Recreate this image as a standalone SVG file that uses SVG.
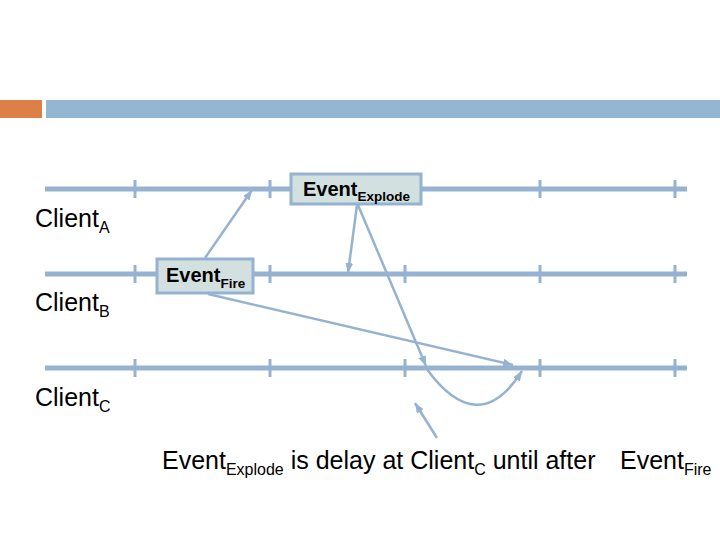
<svg xmlns="http://www.w3.org/2000/svg" width="720" height="540" viewBox="0 0 720 540">
<style>
.tl{stroke:#95B3D0;stroke-width:5;fill:none}
.tk{stroke:#95B3D0;stroke-width:3}
.cn{stroke:#95B3D0;stroke-width:2.5;fill:none;marker-end:url(#ah)}
.box{fill:#D3E0E0;stroke:#95B3D0;stroke-width:3}
.lab{font-family:"Liberation Sans",Arial,sans-serif;font-size:25px;fill:#000}
.sub{font-size:16px}
.bt{font-family:"Liberation Sans",Arial,sans-serif;font-weight:bold;font-size:20px;fill:#000}
.bs{font-size:13.5px}
</style>
<defs>
<marker id="ah" markerUnits="userSpaceOnUse" markerWidth="12" markerHeight="10" refX="10" refY="4.5" orient="auto">
<path d="M0,0.5 L10,4.5 L0,8.5 z" fill="#95B3D0"/>
</marker>
</defs>
<g id="header">
<rect x="0" y="100" width="42" height="18" fill="#DD8047"/>
<rect x="46" y="100" width="674" height="18" fill="#94B6D2"/>
</g>
<g id="timelineA">
<line class="tl" x1="45" y1="189" x2="687" y2="189"/>
<line class="tk" x1="135" y1="180" x2="135" y2="198"/>
<line class="tk" x1="270" y1="180" x2="270" y2="198"/>
<line class="tk" x1="405" y1="180" x2="405" y2="198"/>
<line class="tk" x1="540" y1="180" x2="540" y2="198"/>
<line class="tk" x1="675" y1="180" x2="675" y2="198"/>
<text class="lab" x="35" y="227">Client<tspan class="sub" dy="6">A</tspan></text>
</g>
<g id="timelineB">
<line class="tl" x1="45" y1="274" x2="687" y2="274"/>
<line class="tk" x1="135" y1="265" x2="135" y2="283"/>
<line class="tk" x1="270" y1="265" x2="270" y2="283"/>
<line class="tk" x1="405" y1="265" x2="405" y2="283"/>
<line class="tk" x1="540" y1="265" x2="540" y2="283"/>
<line class="tk" x1="675" y1="265" x2="675" y2="283"/>
<text class="lab" x="35" y="311">Client<tspan class="sub" dy="6">B</tspan></text>
</g>
<g id="timelineC">
<line class="tl" x1="45" y1="368" x2="687" y2="368"/>
<line class="tk" x1="135" y1="359" x2="135" y2="377"/>
<line class="tk" x1="270" y1="359" x2="270" y2="377"/>
<line class="tk" x1="405" y1="359" x2="405" y2="377"/>
<line class="tk" x1="540" y1="359" x2="540" y2="377"/>
<line class="tk" x1="675" y1="359" x2="675" y2="377"/>
<text class="lab" x="35" y="406">Client<tspan class="sub" dy="6">C</tspan></text>
</g>
<g id="connectors">
<line class="cn" x1="205" y1="258" x2="252" y2="190"/>
<line class="cn" x1="357" y1="205" x2="348" y2="273"/>
<line class="cn" x1="358" y1="205" x2="426" y2="366"/>
<path class="cn" d="M426,368 Q478,440 522,371"/>
<line class="cn" x1="208" y1="294" x2="513" y2="365"/>
<line class="cn" x1="437" y1="438" x2="415" y2="403"/>
</g>
<g id="eventExplode">
<rect class="box" x="291" y="174" width="130" height="30"/>
<text class="bt" x="303" y="196">Event<tspan class="bs" y="201">Explode</tspan></text>
</g>
<g id="eventFire">
<rect class="box" x="157" y="259" width="96" height="34"/>
<text class="bt" x="166" y="282">Event<tspan class="bs" y="288">Fire</tspan></text>
</g>
<g id="note">
<text class="lab" x="162" y="469">Event<tspan class="sub" dy="6">Explode</tspan><tspan dy="-6"> is delay at Client</tspan><tspan class="sub" dy="6">C</tspan><tspan dy="-6"> until after</tspan><tspan x="620">Event</tspan><tspan class="sub" dy="6">Fire</tspan></text>
</g>
</svg>
